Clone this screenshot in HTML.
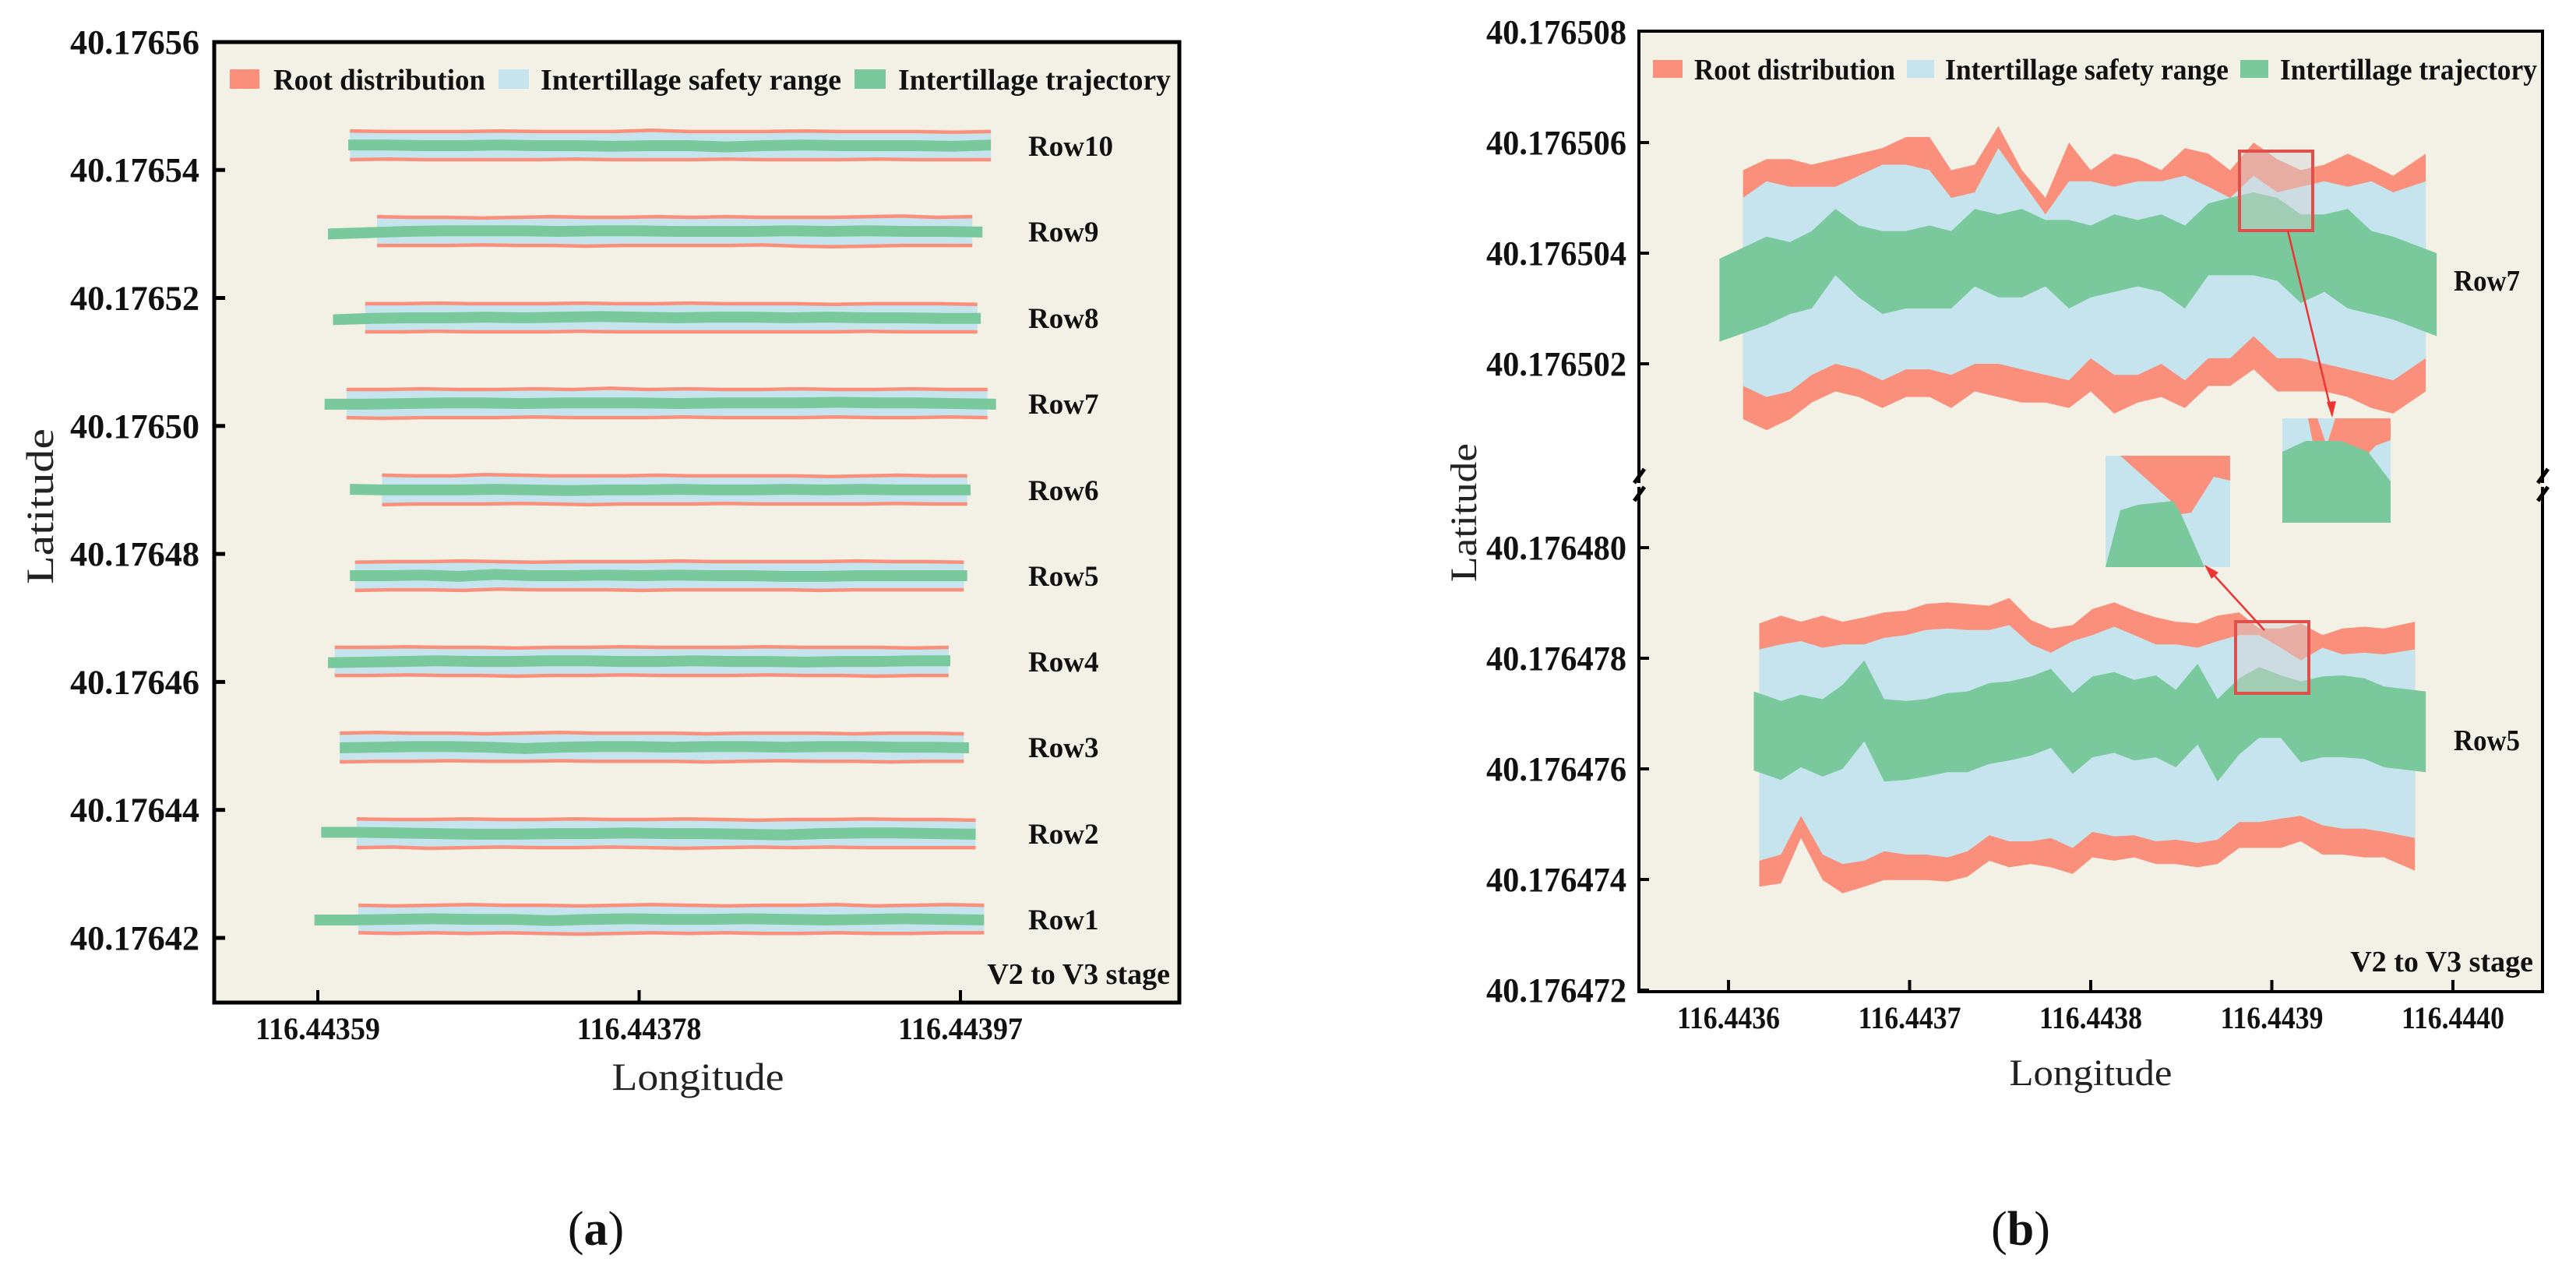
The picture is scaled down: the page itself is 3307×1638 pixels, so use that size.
<!DOCTYPE html>
<html><head><meta charset="utf-8"><style>
html,body{margin:0;padding:0;background:#fff;}
svg{display:block;}
text{font-family:"Liberation Serif",serif;}
</style></head><body>
<svg id="fig" width="3307" height="1638" viewBox="0 0 3307 1638" xmlns="http://www.w3.org/2000/svg">
<g id="panelA"></g>
<g id="panelB"></g>
</svg>
<script>
// ===== Panel (a) data =====
const aRowNames = ["Row1","Row2","Row3","Row4","Row5","Row6","Row7","Row8","Row9","Row10"];
const aCenterLat = [40.1764229,40.1764363,40.1764498,40.1764632,40.1764766,40.1764900,40.1765035,40.1765169,40.1765304,40.1765438];
const aBandStart = [116.443614,116.443613,116.443603,116.443600,116.443612,116.443628,116.443607,116.443618,116.443625,116.443609];
const aBandEnd   = [116.443984,116.443979,116.443972,116.443963,116.443972,116.443974,116.443986,116.443980,116.443977,116.443988];
const aGreenStart= [116.443588,116.443592,116.443603,116.443596,116.443609,116.443609,116.443594,116.443599,116.443596,116.443608];
const aGreenEnd  = [116.443984,116.443979,116.443975,116.443964,116.443974,116.443976,116.443991,116.443982,116.443983,116.443988];
// offsets in 1e-7 degrees around row centre
const aGreenOff = [
 [-1,-1,0,1,0,0,-2,0,1,0,0,1,0,-1,0,1,0,-1],
 [2,2,1,0,-1,-1,0,0,1,0,0,-1,-2,0,1,1,0,-1],
 [-1,0,1,1,0,-2,0,1,1,0,1,1,0,1,1,0,0,-1],
 [-2,-1,0,1,0,0,1,1,0,0,1,0,0,-1,0,0,1,1],
 [0,0,1,-1,2,0,0,1,0,1,0,0,-1,-1,0,0,0,0],
 [1,0,0,0,1,0,-1,0,0,1,0,0,1,0,1,0,0,0],
 [-1,-1,0,1,1,0,1,1,1,0,1,1,1,2,1,1,0,-1],
 [-3,-1,0,0,1,0,1,2,1,0,1,1,0,1,0,0,-1,-1],
 [-4,-2,0,1,1,1,0,1,1,0,0,0,1,0,1,0,0,-1],
 [1,1,0,0,1,0,0,-1,0,0,-2,0,1,0,0,0,-1,1]];
const aTopOff = [
 [22,21,22,23,22,22,21,22,23,22,21,22,22,23,21,22,23,22],
 [23,22,22,23,22,22,23,22,22,23,22,21,22,22,23,22,22,21],
 [22,23,22,22,21,22,23,22,22,22,21,22,22,22,21,22,22,21],
 [22,22,23,22,22,21,22,22,23,22,22,22,23,22,22,22,21,22],
 [21,22,22,23,22,21,22,22,22,23,22,22,22,22,23,22,22,21],
 [23,22,22,24,23,22,22,22,23,22,22,22,22,21,22,23,22,22],
 [22,22,23,22,22,23,22,24,22,23,22,22,23,22,22,23,22,22],
 [22,22,23,22,22,22,23,22,22,23,22,22,22,21,22,22,22,21],
 [23,22,22,21,22,23,22,22,23,22,23,22,22,22,23,24,22,23],
 [23,22,22,22,23,22,22,22,24,22,22,22,23,22,22,22,21,22]];
const aBotOff = [
 [-21,-22,-21,-22,-21,-22,-23,-22,-21,-22,-21,-22,-22,-21,-22,-22,-21,-21],
 [-22,-21,-23,-22,-21,-22,-22,-21,-22,-23,-22,-21,-22,-21,-22,-22,-22,-22],
 [-23,-22,-22,-21,-22,-22,-21,-22,-22,-22,-23,-22,-21,-22,-22,-23,-22,-22],
 [-22,-22,-21,-22,-22,-23,-22,-22,-21,-22,-22,-22,-21,-22,-22,-23,-22,-22],
 [-23,-22,-22,-23,-21,-22,-22,-22,-23,-22,-22,-22,-22,-23,-22,-22,-22,-22],
 [-23,-22,-22,-22,-21,-22,-23,-22,-22,-22,-21,-22,-22,-22,-22,-21,-22,-22],
 [-22,-23,-22,-22,-22,-21,-22,-22,-22,-21,-22,-22,-22,-21,-22,-22,-21,-22],
 [-22,-22,-21,-22,-22,-22,-21,-22,-22,-22,-22,-22,-22,-22,-21,-22,-22,-22],
 [-22,-22,-22,-21,-22,-22,-23,-22,-22,-22,-22,-21,-23,-24,-23,-22,-22,-22],
 [-22,-21,-22,-22,-22,-22,-21,-22,-22,-22,-21,-22,-22,-22,-21,-22,-22,-22]];
const aYTicks = [40.17642,40.17644,40.17646,40.17648,40.17650,40.17652,40.17654,40.17656];
const aYTickLabels = ["40.17642","40.17644","40.17646","40.17648","40.17650","40.17652","40.17654","40.17656"];
const aXTicks = [116.44359,116.44378,116.44397];
const aXTickLabels = ["116.44359","116.44378","116.44397"];

// ===== Panel (b) data =====
const bXTicks = [116.4436,116.4437,116.4438,116.4439,116.4440];
const bXTickLabels = ["116.4436","116.4437","116.4438","116.4439","116.4440"];
const bUpperTicks = [40.176502,40.176504,40.176506,40.176508];
const bUpperTickLabels = ["40.176502","40.176504","40.176506","40.176508"];
const bLowerTicks = [40.176472,40.176474,40.176476,40.176478,40.176480];
const bLowerTickLabels = ["40.176472","40.176474","40.176476","40.176478","40.176480"];
// Row7 (offsets 1e-7 deg above 40.1765)
const r7Lon = [116.443608,116.443621,116.443634,116.443646,116.443659,116.443672,116.443685,116.443698,116.443711,116.443723,116.443736,116.443749,116.443762,116.443775,116.443788,116.443800,116.443813,116.443826,116.443839,116.443852,116.443865,116.443877,116.443890,116.443903,116.443916,116.443929,116.443942,116.443955,116.443967,116.443985];
const r7GreenLon = [116.443595,116.443621,116.443634,116.443646,116.443659,116.443672,116.443685,116.443698,116.443711,116.443723,116.443736,116.443749,116.443762,116.443775,116.443788,116.443800,116.443813,116.443826,116.443839,116.443852,116.443865,116.443877,116.443890,116.443903,116.443916,116.443929,116.443942,116.443955,116.443967,116.443991];
const r7RootTop = [55,57,57,56,57,58,59,61,61,55,56,63,55,50,60,55,58,57,55,59,58,55,60,57,55,56,58,56,54,58];
const r7SafeTop = [50,53,52,52,52,54,56,56,55,50,51,59,53,47,53,53,52,53,53,54,52,50,54,51,52,53,52,53,51,53];
const r7TrajTop = [39,43,42,44,48,45,44,44,45,44,48,47,48,46,46,45,47,46,47,45,49,50,51,50,47,47,48,44,43,40];
const r7TrajBot = [24,27,29,30,36,32,29,30,30,30,34,32,32,34,30,32,33,34,33,30,36,36,36,35,31,33,30,29,28,25];
const r7SafeBot = [16,14,15,18,20,19,17,19,19,18,20,20,19,18,17,21,18,18,20,17,21,21,25,21,21,20,19,18,17,21];
const r7RootBot = [10,8,10,13,15,14,12,14,14,12,15,14,13,13,12,15,11,13,14,12,16,16,19,15,15,15,14,12,11,15];
// Row5 (offsets 1e-7 deg above 40.17647)
const r5Lon = [116.443617,116.443629,116.443640,116.443652,116.443663,116.443675,116.443686,116.443698,116.443709,116.443721,116.443732,116.443744,116.443755,116.443767,116.443778,116.443790,116.443801,116.443813,116.443824,116.443836,116.443847,116.443859,116.443870,116.443882,116.443893,116.443905,116.443916,116.443928,116.443939,116.443951,116.443962,116.443979];
const r5GreenLon = [116.443614,116.443629,116.443640,116.443652,116.443663,116.443675,116.443686,116.443698,116.443709,116.443721,116.443732,116.443744,116.443755,116.443767,116.443778,116.443790,116.443801,116.443813,116.443824,116.443836,116.443847,116.443859,116.443870,116.443882,116.443893,116.443905,116.443916,116.443928,116.443939,116.443951,116.443962,116.443985];
const r5RootTop = [86.3,87.7,86.6,87.7,86.6,87.4,88.3,88.6,89.8,90.1,89.8,89.5,90.9,86.9,85.4,86.0,88.9,90.1,88.6,87.4,86.6,86.3,87.7,88.3,85.4,85.4,86.3,84.2,85.4,85.7,85.4,86.6];
const r5SafeTop = [81.6,82.5,83.1,81.9,82.5,82.5,83.7,84.2,85.1,85.4,85.1,85.1,86.0,82.5,81.0,83.1,84.2,85.7,84.2,82.5,82.5,81.9,83.1,84.2,84.2,81.9,79.6,81.9,80.7,81.0,80.7,81.6];
const r5TrajTop = [74.0,72.3,73.4,72.6,75.2,79.6,72.6,72.3,72.6,73.7,74.0,75.5,75.8,76.7,78.1,73.7,76.7,77.5,76.1,76.9,74.3,79.0,72.6,76.4,78.4,76.9,75.8,76.7,76.9,76.4,74.9,74.0];
const r5TrajBot = [59.7,58.0,60.3,58.6,60.0,65.0,57.7,58.0,58.6,59.4,59.4,60.9,61.5,62.4,63.8,59.1,62.1,62.9,61.5,62.1,60.3,64.4,57.7,62.6,65.6,65.6,61.2,62.1,62.1,61.8,60.3,59.4];
const r5SafeBot = [43.4,44.5,51.5,44.5,42.8,43.4,45.1,44.5,44.5,44.0,45.1,48.0,46.9,46.9,47.5,45.7,48.6,47.8,48.0,46.9,47.2,46.6,47.2,50.4,50.4,51.0,51.5,49.8,49.2,49.2,48.6,47.5];
const r5RootBot = [38.7,39.3,47.5,39.9,37.5,38.7,39.9,39.9,39.9,39.6,40.5,43.4,42.2,42.8,42.2,41.0,44.0,43.4,44.0,42.8,42.8,42.2,42.8,45.7,45.7,45.7,46.9,44.5,44.5,44.0,44.0,41.6];

const RED="#fa8f7b", BLUE="#c6e4ee", GREEN="#79c99c", BG="#f3f1e6";
const NS="http://www.w3.org/2000/svg";
function mk(parent, tag, attrs, txt){
  const e=document.createElementNS(NS,tag);
  for(const k in attrs) e.setAttribute(k,attrs[k]);
  if(txt!==undefined) e.textContent=txt;
  parent.appendChild(e); return e;
}

// ===== Panel (a) =====
const A=document.getElementById('panelA');
const aL=275,aR=1514,aT=54,aB=1287;
const aX=v=>408+(v-116.44359)/0.00019*412.5;
const aY=v=>1204-(v-40.17642)/0.00002*164.3;
let r=mk(A,'rect',{x:aL,y:aT,width:aR-aL,height:aB-aT,fill:BG});



aRowNames.forEach((name,i)=>{
  const g=mk(A,'g',{});
  
  
  const n=aTopOff[i].length;
  const xs=k=>aX(aBandStart[i]+(aBandEnd[i]-aBandStart[i])*k/(n-1));
  const top=aTopOff[i].map((o,k)=>[xs(k),aY(aCenterLat[i]+o*1e-7)]);
  const bot=aBotOff[i].map((o,k)=>[xs(k),aY(aCenterLat[i]+o*1e-7)]);
  const safe=mk(g,'polygon',{points:top.concat(bot.slice().reverse()).map(p=>p.join(',')).join(' '),fill:BLUE});
  
  
  [top,bot].forEach(arr=>{
    const pl=mk(g,'polyline',{points:arr.map(p=>p.join(',')).join(' '),fill:'none',stroke:RED,'stroke-width':4.5});
    
    
  });
  const m=aGreenOff[i].length;
  const gx=k=>aX(aGreenStart[i]+(aGreenEnd[i]-aGreenStart[i])*k/(m-1));
  const gt=aGreenOff[i].map((o,k)=>[gx(k),aY(aCenterLat[i]+(o+8.5)*1e-7)]);
  const gb=aGreenOff[i].map((o,k)=>[gx(k),aY(aCenterLat[i]+(o-8.5)*1e-7)]);
  const tr=mk(g,'polygon',{points:gt.concat(gb.reverse()).map(p=>p.join(',')).join(' '),fill:GREEN});
  
  
  const lb=mk(A,'text',{x:1320,y:aY(aCenterLat[i])+13,'font-size':37,'font-weight':'bold',fill:'#111'},name);
  
  
});

// legend a
function legend(P,items){
  items.forEach(it=>{
    const s=mk(P,'rect',{x:it[0],y:it[1],width:it[2],height:it[3],fill:it[4]});
    
    
    const t=mk(P,'text',{x:it[5],y:it[6],'font-size':38,'font-weight':'bold',textLength:it[7],lengthAdjust:'spacingAndGlyphs',fill:'#111'},it[8]);
    
    
  });
}
legend(A,[[295,89,38,25,RED,351,115,272,"Root distribution"],[640,89,39,25,BLUE,694,115,386,"Intertillage safety range"],[1097,89,40,25,GREEN,1153,115,350,"Intertillage trajectory"]]);

let st=mk(A,'text',{x:1502,y:1263,'font-size':38,'font-weight':'bold','text-anchor':'end',fill:'#111'},"V2 to V3 stage");



// axes a
let fr=mk(A,'rect',{x:aL,y:aT,width:aR-aL,height:aB-aT,fill:'none',stroke:'#000','stroke-width':5});


aYTicks.forEach((v,i)=>{
  const y=aY(v);
  if(i<aYTicks.length-1){const tk=mk(A,'line',{x1:aL,x2:aL+14,y1:y,y2:y,stroke:'#000','stroke-width':5});
  
  }
  const t=mk(A,'text',{x:256,y:y+15,'font-size':44,'font-weight':'bold','text-anchor':'end',textLength:166,lengthAdjust:'spacingAndGlyphs',fill:'#111'},aYTickLabels[i]);
  
  
});
aXTicks.forEach((v,i)=>{
  const x=aX(v);
  const tk=mk(A,'line',{x1:x,x2:x,y1:aB,y2:aB-16,stroke:'#000','stroke-width':4});
  
  
  const t=mk(A,'text',{x:x,y:1334,'font-size':40,'font-weight':'bold','text-anchor':'middle',textLength:160,lengthAdjust:'spacingAndGlyphs',fill:'#111'},aXTickLabels[i]);
  
  
});
let xt=mk(A,'text',{x:896,y:1399,'font-size':50,'text-anchor':'middle',textLength:221,lengthAdjust:'spacingAndGlyphs',fill:'#222'},"Longitude");


let yt=mk(A,'text',{x:0,y:0,'font-size':50,'text-anchor':'middle',textLength:200,lengthAdjust:'spacingAndGlyphs',fill:'#222',transform:'translate(68,650) rotate(-90)'},"Latitude");


let ca=mk(A,'text',{x:765,y:1598,'font-size':62,'text-anchor':'middle',fill:'#111'},"(");
ca.textContent="";
const ts1=mk(ca,'tspan',{},"(");
const ts2=mk(ca,'tspan',{'font-weight':'bold'},"a");
const ts3=mk(ca,'tspan',{},")");



// ===== Panel (b) =====
const B=document.getElementById('panelB');
const bL=2104,bR=3264,bT=40,bB=1273,bBreak=622;
const bX=v=>2219+(v-116.4436)/0.0001*232.5;
const bYU=v=>609-(v-40.1765)/0.000002*142;
const bYL=v=>703+(40.17648-v)/0.000002*142;
r=mk(B,'rect',{x:bL,y:bT,width:bR-bL,height:bB-bT,fill:BG});



function drawRow(name,lon,glon,rt,stp,tt,tb,sb,rb,base,yf){
  const g=mk(B,'g',{});
  
  
  const P=(xa,arr)=>arr.map((v,k)=>[bX(xa[k]),yf(base+v*1e-7)]);
  const band=(xa,a,b)=>P(xa,a).concat(P(xa,b).reverse()).map(p=>p.map(q=>q.toFixed(1)).join(',')).join(' ');
  const p1=mk(g,'polygon',{points:band(lon,rt,rb),fill:RED});
  
  
  const p2=mk(g,'polygon',{points:band(lon,stp,sb),fill:BLUE});
  
  
  const p3=mk(g,'polygon',{points:band(glon,tt,tb),fill:GREEN});
  
  
}
drawRow('row7-detail',r7Lon,r7GreenLon,r7RootTop,r7SafeTop,r7TrajTop,r7TrajBot,r7SafeBot,r7RootBot,40.1765,bYU);
drawRow('row5-detail',r5Lon,r5GreenLon,r5RootTop,r5SafeTop,r5TrajTop,r5TrajBot,r5SafeBot,r5RootBot,40.17647,bYL);

// zoom boxes and insets
function inset(name,x,y,w,h,red,green){
  const g=mk(B,'g',{});
  
  
  mk(g,'rect',{x:x,y:y,width:w,height:h,fill:BLUE});
  mk(g,'polygon',{points:red,fill:RED});
  mk(g,'polygon',{points:green,fill:GREEN});
}
inset('inset-row5',2703,585,160,143,"2722,585 2863,585 2863,617 2842,612 2813,658 2800,660 2788,644","2703,728 2722,655 2745,648 2790,643 2800,660 2830,728");
inset('inset-row7',2930,537,139,134,"2963,537 2975,537 2987,572 2998,537 3069,537 3069,565 3050,572 3014,610 2978,612","2930,580 2960,566 3005,566 3040,580 3069,618 3069,671 2930,671");
[[2875,194,94,102],[2870,798,94,92]].forEach(b=>{
  const z=mk(B,'rect',{x:b[0],y:b[1],width:b[2],height:b[3],fill:'rgba(210,210,210,0.45)',stroke:'#e0504a','stroke-width':4});
  
  
});
let ar=mk(B,'line',{x1:2937,y1:296,x2:2994,y2:533,stroke:'#e33',"stroke-width":2.5});


mk(B,'polygon',{points:"2994,536 2987,516 2999,515",fill:'#e33'});
ar=mk(B,'line',{x1:2907,y1:809,x2:2832,y2:727,stroke:'#e33',"stroke-width":2.5});


mk(B,'polygon',{points:"2830,725 2848,735 2839,743",fill:'#e33'});

legend(B,[[2122,77,38,23,RED,2175,102,258,"Root distribution"],[2448,77,35,23,BLUE,2497,102,364,"Intertillage safety range"],[2876,77,36,23,GREEN,2927,102,330,"Intertillage trajectory"]]);

[["Row7",373],["Row5",963]].forEach(o=>{
  const t=mk(B,'text',{x:3150,y:o[1],'font-size':38,'font-weight':'bold',textLength:85,lengthAdjust:'spacingAndGlyphs',fill:'#111'},o[0]);
  
  
});
st=mk(B,'text',{x:3252,y:1247,'font-size':38,'font-weight':'bold','text-anchor':'end',fill:'#111'},"V2 to V3 stage");



// frame b with axis break
fr=mk(B,'path',{d:`M${bL},${bBreak-2} L${bL},${bT} L${bR},${bT} L${bR},${bBreak-2} M${bL},${bBreak+3} L${bL},${bB} L${bR},${bB} L${bR},${bBreak+3}`,fill:'none',stroke:'#000','stroke-width':4});


[bL,bR].forEach(x=>{
  const br=mk(B,'path',{d:`M${x-6},${bBreak-2} L${x+7},${bBreak-20} M${x-6},${bBreak+21} L${x+7},${bBreak+3}`,stroke:'#000','stroke-width':5,fill:'none'});
  
  
});
function yTicksB(ticks,labels,yf,skipTop){
  ticks.forEach((v,i)=>{
    const y=yf(v);
    if(!(skipTop&&i===ticks.length-1)){const tk=mk(B,'line',{x1:bL,x2:bL+13,y1:y,y2:y,stroke:'#000','stroke-width':4});
    
    }
    const t=mk(B,'text',{x:2088,y:y+15,'font-size':44,'font-weight':'bold','text-anchor':'end',textLength:180,lengthAdjust:'spacingAndGlyphs',fill:'#111'},labels[i]);
    
    
  });
}
yTicksB(bUpperTicks,bUpperTickLabels,bYU,true);
yTicksB(bLowerTicks,bLowerTickLabels,bYL,false);
bXTicks.forEach((v,i)=>{
  const x=bX(v);
  const tk=mk(B,'line',{x1:x,x2:x,y1:bB,y2:bB-15,stroke:'#000','stroke-width':4});
  
  
  const t=mk(B,'text',{x:x,y:1320,'font-size':40,'font-weight':'bold','text-anchor':'middle',textLength:132,lengthAdjust:'spacingAndGlyphs',fill:'#111'},bXTickLabels[i]);
  
  
});
xt=mk(B,'text',{x:2684,y:1393,'font-size':48,'text-anchor':'middle',textLength:209,lengthAdjust:'spacingAndGlyphs',fill:'#222'},"Longitude");


yt=mk(B,'text',{x:0,y:0,'font-size':48,'text-anchor':'middle',textLength:178,lengthAdjust:'spacingAndGlyphs',fill:'#222',transform:'translate(1895,658) rotate(-90)'},"Latitude");


let cb=mk(B,'text',{x:2594,y:1598,'font-size':62,'text-anchor':'middle',fill:'#111'});
mk(cb,'tspan',{},"(");
mk(cb,'tspan',{'font-weight':'bold'},"b");
mk(cb,'tspan',{},")");


</script>
</body></html>
